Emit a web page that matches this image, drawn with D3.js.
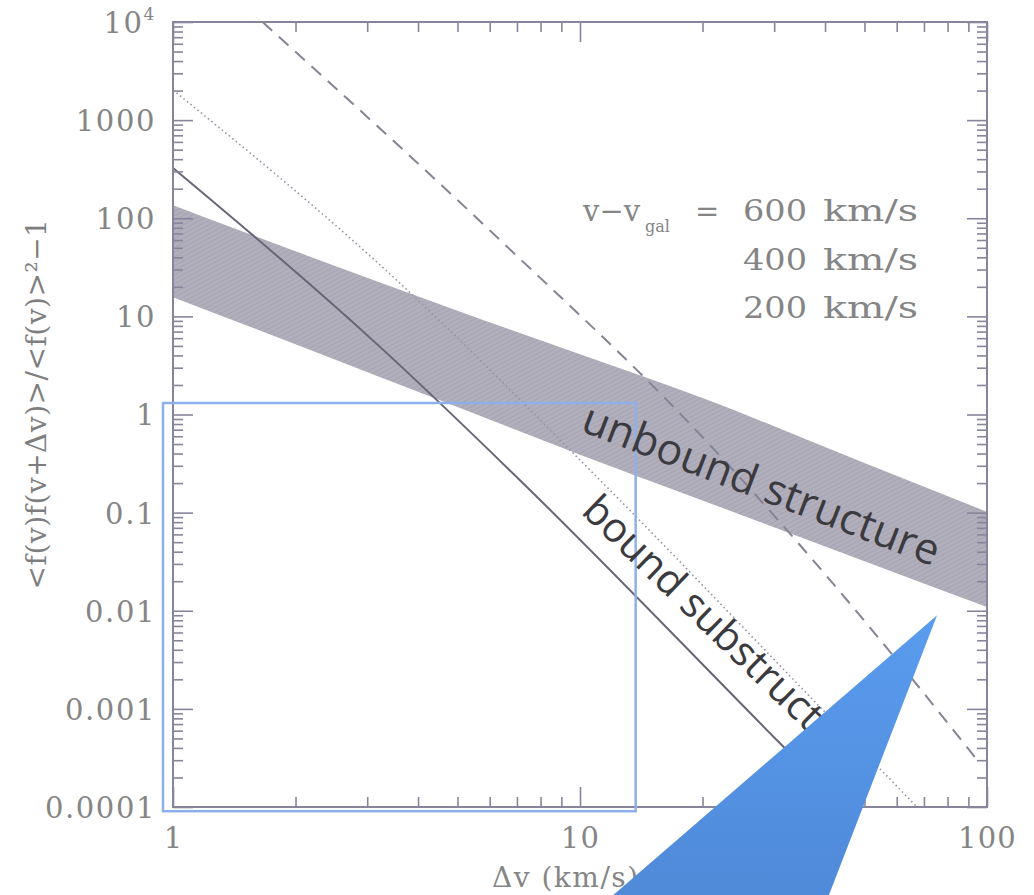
<!DOCTYPE html>
<html><head><meta charset="utf-8">
<script src="https://cdn.jsdelivr.net/npm/d3@7"></script>
<style>
html,body{margin:0;padding:0;background:#fff;}
svg{display:block;}
</style></head>
<body>
<svg id="chart" width="1034" height="895"></svg>
<script>
// Pair-correlation excess vs velocity separation (log-log)
const xDomain = [1, 100];
const yDomain = [1e-4, 1e4];
const xTicks = [1, 10, 100];
const xTickLabels = ["1", "10", "100"];
const yTicks = [1e-4, 1e-3, 1e-2, 1e-1, 1, 10, 100, 1000, 1e4];
const yTickLabels = ["0.0001", "0.001", "0.01", "0.1", "1", "10", "100", "1000", "10^4"];

// unbound structure: shaded band
const bandX = [1, 2, 5, 10, 20, 50, 100];
const bandUpper = [136, 46, 11.4, 4.1, 1.47, 0.32, 0.102];
const bandLower = [15.7, 5.2, 1.19, 0.39, 0.133, 0.032, 0.0109];

// bound substructure curves for v - v_gal = 600 / 400 / 200 km/s
const dashedX = [1.66, 6.36, 18.95, 89.3, 93.5];
const dashedY = [1e4, 60, 0.745, 4.07e-4, 3.2e-4];
const dottedX = [1, 3.23, 11.2, 38.9, 67.3];
const dottedY = [2027, 33.3, 0.214, 1.04e-3, 1e-4];
const solidX = [1, 3.23, 7.12, 31.0, 44.3];
const solidY = [325, 4.86, 0.214, 4.46e-4, 1e-4];

const legendSpeeds = ["600", "400", "200"];

// highlight box and callout pointer
const boxX = [0.945, 13.7];
const boxY = [9.06e-5, 1.31];
const pointerX = [75.4, 40.0, 11.3];
const pointerY = [0.009, 1e-5, 1e-5];

// text annotations [x, y]
const unboundPos = [28.0, 0.2];
const boundPos = [10, 0.1];

const svg = d3.select("#chart");
const plot = {left: 173, right: 987, top: 22, bottom: 807};

const x = d3.scaleLog().domain(xDomain).range([plot.left, plot.right]);
const y = d3.scaleLog().domain(yDomain).range([plot.bottom, plot.top]);

const frameColor = "#87859c";
const labelColor = "#858585";
const serif = "'DejaVu Serif', serif";

const defs = svg.append("defs");
defs.append("clipPath").attr("id", "plotClip")
  .append("rect")
  .attr("x", plot.left).attr("y", plot.top)
  .attr("width", plot.right - plot.left).attr("height", plot.bottom - plot.top);

const hatch = defs.append("pattern").attr("id", "bandHatch")
  .attr("patternUnits", "userSpaceOnUse").attr("width", 4).attr("height", 4)
  .attr("patternTransform", "rotate(-28)");
hatch.append("rect").attr("width", 4).attr("height", 4).attr("fill", "#b2afbc");
hatch.append("line").attr("x1", 0).attr("y1", 0.5).attr("x2", 4).attr("y2", 0.5)
  .attr("stroke", "#a4a1b1").attr("stroke-width", 0.9);

const grad = defs.append("linearGradient").attr("id", "pointerGrad")
  .attr("x1", "0%").attr("y1", "0%").attr("x2", "0%").attr("y2", "100%");
grad.append("stop").attr("offset", "0%").attr("stop-color", "#5a9cef");
grad.append("stop").attr("offset", "100%").attr("stop-color", "#4f89d8");

const plotG = svg.append("g").attr("clip-path", "url(#plotClip)");

// band
const bandData = bandX.map((v, i) => [v, bandUpper[i], bandLower[i]]);
plotG.append("path")
  .datum(bandData)
  .attr("fill", "url(#bandHatch)")
  .attr("d", d3.area()
    .x(d => x(d[0]))
    .y0(d => y(d[2]))
    .y1(d => y(d[1]))
    .curve(d3.curveMonotoneX));

// curves
const line = d3.line().x(d => x(d[0])).y(d => y(d[1])).curve(d3.curveMonotoneX);
const curves = [
  {xs: dashedX, ys: dashedY, stroke: "#858396", width: 2, dash: "13,9"},
  {xs: dottedX, ys: dottedY, stroke: "#9391a5", width: 1.6, dash: "1.5,3"},
  {xs: solidX, ys: solidY, stroke: "#676576", width: 2, dash: null}
];
curves.forEach(c => {
  plotG.append("path")
    .datum(c.xs.map((v, i) => [v, c.ys[i]]))
    .attr("fill", "none")
    .attr("stroke", c.stroke)
    .attr("stroke-width", c.width)
    .attr("stroke-dasharray", c.dash)
    .attr("d", line);
});

// axes: major and minor ticks pointing inward on all four sides
function minorTicks(domain) {
  const out = [];
  const lo = Math.round(Math.log10(domain[0])), hi = Math.round(Math.log10(domain[1]));
  for (let e = lo; e < hi; e++) for (let m = 2; m <= 9; m++) out.push(m * Math.pow(10, e));
  return out;
}
const xMinor = minorTicks(xDomain);
const yMinor = minorTicks(yDomain);

function styleAxis(g) {
  g.select(".domain").remove();
  g.selectAll(".tick line").attr("stroke", frameColor).attr("stroke-width", 1.6);
}

const majorLen = 20, minorLen = 10;

svg.append("g").attr("transform", `translate(${plot.left},0)`)
  .call(d3.axisLeft(y).tickValues(yTicks).tickSize(-majorLen).tickSizeOuter(0).tickPadding(17)
    .tickFormat((d, i) => yTickLabels[i]))
  .call(styleAxis)
  .call(g => g.selectAll("text")
    .attr("font-family", serif).attr("font-size", 29).attr("fill", labelColor)
    .attr("letter-spacing", 1.6).attr("dy", "0.36em"));
svg.append("g").attr("transform", `translate(${plot.left},0)`)
  .call(d3.axisLeft(y).tickValues(yMinor).tickSize(-minorLen).tickSizeOuter(0).tickFormat(""))
  .call(styleAxis);
svg.append("g").attr("transform", `translate(${plot.right},0)`)
  .call(d3.axisRight(y).tickValues(yTicks).tickSize(-majorLen).tickSizeOuter(0).tickFormat(""))
  .call(styleAxis);
svg.append("g").attr("transform", `translate(${plot.right},0)`)
  .call(d3.axisRight(y).tickValues(yMinor).tickSize(-minorLen).tickSizeOuter(0).tickFormat(""))
  .call(styleAxis);

svg.append("g").attr("transform", `translate(0,${plot.bottom})`)
  .call(d3.axisBottom(x).tickValues(xTicks).tickSize(-majorLen).tickSizeOuter(0).tickPadding(20)
    .tickFormat((d, i) => xTickLabels[i]))
  .call(styleAxis)
  .call(g => g.selectAll("text")
    .attr("font-family", serif).attr("font-size", 29).attr("fill", labelColor)
    .attr("letter-spacing", 1.2));
svg.append("g").attr("transform", `translate(0,${plot.bottom})`)
  .call(d3.axisBottom(x).tickValues(xMinor).tickSize(-minorLen).tickSizeOuter(0).tickFormat(""))
  .call(styleAxis);
svg.append("g").attr("transform", `translate(0,${plot.top})`)
  .call(d3.axisTop(x).tickValues(xTicks).tickSize(-majorLen).tickSizeOuter(0).tickFormat(""))
  .call(styleAxis);
svg.append("g").attr("transform", `translate(0,${plot.top})`)
  .call(d3.axisTop(x).tickValues(xMinor).tickSize(-minorLen).tickSizeOuter(0).tickFormat(""))
  .call(styleAxis);

// render 10^4 with a superscript exponent
svg.selectAll("text").filter(function () { return this.textContent === "10^4"; })
  .each(function () {
    const t = d3.select(this);
    t.text(null);
    t.append("tspan").text("10");
    t.append("tspan").attr("font-size", 17).attr("dy", "-0.75em").text("4");
  });

// frame
svg.append("rect")
  .attr("x", plot.left).attr("y", plot.top)
  .attr("width", plot.right - plot.left).attr("height", plot.bottom - plot.top)
  .attr("fill", "none").attr("stroke", frameColor).attr("stroke-width", 2);

// axis titles
svg.append("text")
  .attr("x", 492).attr("y", 887)
  .attr("font-family", serif).attr("font-size", 28).attr("fill", labelColor)
  .attr("letter-spacing", 1.5)
  .text("Δv (km/s)");

svg.append("text")
  .attr("transform", "translate(36,404) rotate(-90)")
  .attr("text-anchor", "middle").attr("dominant-baseline", "central")
  .attr("font-family", serif).attr("font-size", 28).attr("fill", "#7e7e7e")
  .attr("letter-spacing", 0.5)
  .text("<f(v)f(v+Δv)>/<f(v)>²−1");

// legend text
const legendG = svg.append("g").attr("font-family", serif).attr("fill", labelColor);
legendG.append("text").attr("x", 583).attr("y", 221).attr("font-size", 29).text("v−v");
legendG.append("text").attr("x", 645).attr("y", 232).attr("font-size", 16).text("gal");
legendG.append("text").attr("x", 695).attr("y", 221).attr("font-size", 29).text("=");
legendSpeeds.forEach((s, i) => {
  const yy = 221 + i * 48.5;
  legendG.append("text")
    .attr("x", 743).attr("y", yy).attr("font-size", 30)
    .attr("textLength", 64).attr("lengthAdjust", "spacingAndGlyphs")
    .text(s);
  legendG.append("text")
    .attr("x", 823).attr("y", yy).attr("font-size", 30)
    .attr("textLength", 95).attr("lengthAdjust", "spacingAndGlyphs")
    .text("km/s");
});

// highlight box
svg.append("rect")
  .attr("x", x(boxX[0])).attr("y", y(boxY[1]))
  .attr("width", x(boxX[1]) - x(boxX[0])).attr("height", y(boxY[0]) - y(boxY[1]))
  .attr("fill", "none").attr("stroke", "#8db0ea").attr("stroke-width", 2.5);

// annotations
svg.append("text")
  .attr("transform", `translate(${x(unboundPos[0])},${y(unboundPos[1])}) rotate(21)`)
  .attr("text-anchor", "middle").attr("dominant-baseline", "central")
  .attr("font-family", "'Open Sans', sans-serif").attr("font-size", 43).attr("fill", "#3a3a3f")
  .text("unbound structure");

svg.append("text")
  .attr("transform", `translate(${x(boundPos[0])},${y(boundPos[1])}) rotate(44)`)
  .attr("font-family", "'Open Sans', sans-serif").attr("font-size", 41).attr("fill", "#3a3a3f")
  .text("bound substructure");

// callout pointer
svg.append("path")
  .datum(pointerX.map((v, i) => [v, pointerY[i]]))
  .attr("fill", "url(#pointerGrad)")
  .attr("d", d3.line().x(d => x(d[0])).y(d => y(d[1])).curve(d3.curveLinearClosed));
</script>
</body></html>
